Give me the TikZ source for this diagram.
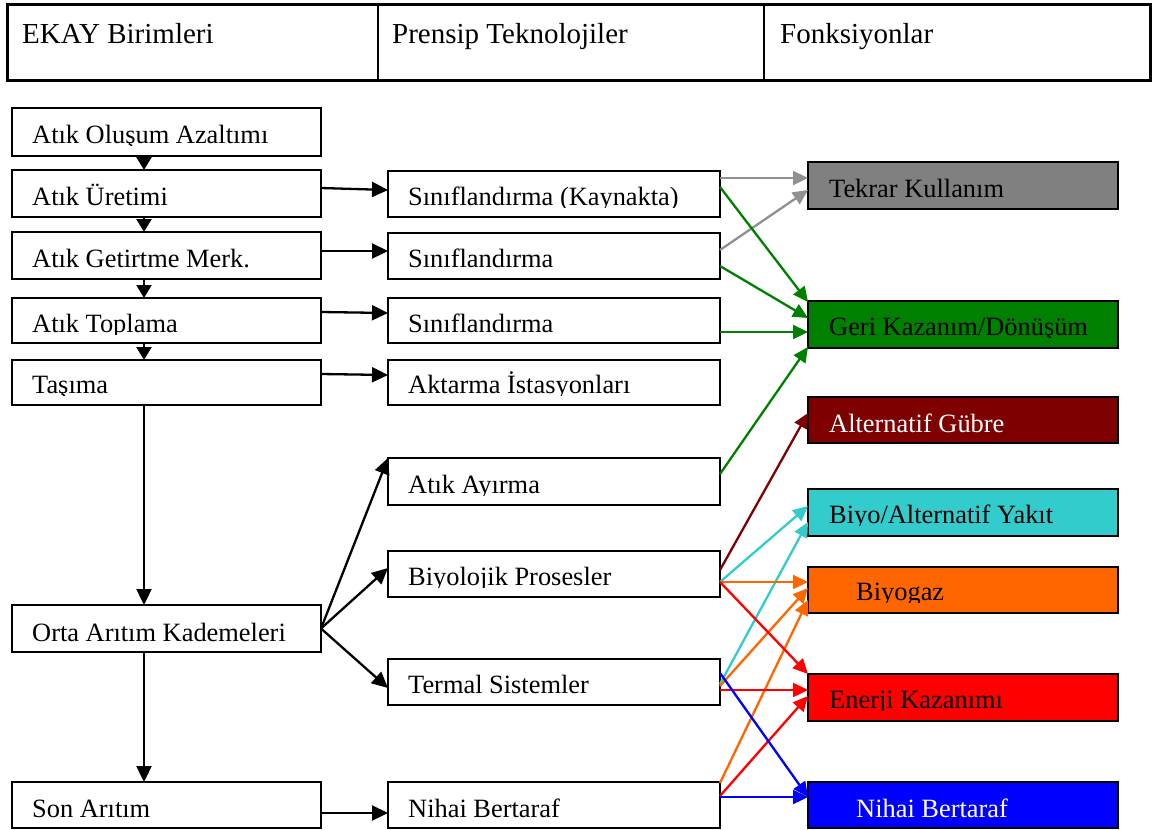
\documentclass[tikz,border=0pt]{standalone}
\usepackage{fontspec}
\setmainfont{Liberation Serif}
\usetikzlibrary{arrows.meta}

\definecolor{reuse}{HTML}{808080}
\definecolor{reusearrow}{HTML}{909090}
\definecolor{recycle}{HTML}{008000}
\definecolor{fert}{HTML}{7F0000}
\definecolor{fuel}{HTML}{33CCCC}
\definecolor{biogas}{HTML}{FF6600}
\definecolor{energy}{HTML}{FF0000}
\definecolor{disposal}{HTML}{0000FF}

\tikzset{
  box/.style={draw=black, line width=2pt, anchor=north west, inner sep=0pt, outer sep=0pt},
  lbl/.style={anchor=base west, inner sep=0pt, font=\fontsize{26.4}{30}\selectfont},
  hdr/.style={anchor=base west, inner sep=0pt, font=\fontsize{29}{33}\selectfont},
  cell/.style={draw=black, line width=2pt, anchor=north west, inner sep=0pt, outer sep=0pt},
  flow/.style={line width=2.3pt, -{Triangle[length=16pt,width=15pt]}},
  vflow/.style={line width=2.3pt, -{Triangle[length=13pt,width=15pt]}},
  link/.style={line width=2.3pt, -{Triangle[length=15pt,width=14pt]}},
}

% box with corners (x0,y0) and (x1,y1)
\newcommand\mkbox[6]{%
  \node[box, fill=#6, minimum width={#4-#2}, minimum height={#5-#3}] (#1) at (#2,#3) {};}
% label set on a baseline, cut just below it
\newcommand\cliplabel[5]{%
  \begin{scope}
    \clip (#2-4,#3-45) rectangle (#2+420,#3+2.5);
    \node[lbl, text=#4] (#1) at (#2,#3) {#5};
  \end{scope}}

\begin{document}
\begin{tikzpicture}[x=1pt, y=-1pt]
\useasboundingbox (0,0) rectangle (1162,830);

% ---- header table ----
\node[cell, minimum width=371, minimum height=76] (h1) at (7,4) {};
\node[cell, minimum width=386, minimum height=76] (h2) at (378,4) {};
\node[cell, minimum width=386, minimum height=76] (h3) at (764,4) {};
\draw[line width=3pt] (h1.north west) rectangle (h3.south east);
\node[hdr] (ht1) at (22,43) {EKAY Birimleri};
\node[hdr] (ht2) at (392,43) {Prensip Teknolojiler};
\node[hdr] (ht3) at (780,43) {Fonksiyonlar};

% ---- left column: units ----
\mkbox{L1}{12}{108}{321}{156}{white}
\mkbox{L2}{12}{170}{321}{217}{white}
\mkbox{L3}{12}{232}{321}{279}{white}
\mkbox{L4}{12}{298}{321}{343}{white}
\mkbox{L5}{12}{360}{321}{405}{white}
\mkbox{L6}{12}{605}{321}{652}{white}
\mkbox{L7}{12}{782}{321}{828}{white}

% ---- middle column: technologies ----
\mkbox{M1}{388}{171}{720}{217}{white}
\mkbox{M2}{388}{233}{720}{279}{white}
\mkbox{M3}{388}{298}{720}{343}{white}
\mkbox{M4}{388}{360}{720}{405}{white}
\mkbox{M5}{388}{458}{720}{505}{white}
\mkbox{M6}{388}{551}{720}{597}{white}
\mkbox{M7}{388}{659}{720}{705}{white}
\mkbox{M8}{388}{782}{720}{828}{white}

% ---- right column: functions ----
\mkbox{R1}{808}{162}{1118}{209}{reuse}
\mkbox{R2}{808}{301}{1118}{348}{recycle}
\mkbox{R3}{808}{397}{1118}{443}{fert}
\mkbox{R4}{808}{489}{1118}{536}{fuel}
\mkbox{R5}{808}{567}{1118}{613}{biogas}
\mkbox{R6}{808}{674}{1118}{721}{energy}
\mkbox{R7}{808}{782}{1118}{828}{disposal}

% ---- labels ----
\cliplabel{tL1}{32}{143}{black}{Atık Oluşum Azaltımı}
\cliplabel{tL2}{32}{205}{black}{Atık Üretimi}
\cliplabel{tL3}{32}{267}{black}{Atık Getirtme Merk.}
\cliplabel{tL4}{32}{332}{black}{Atık Toplama}
\cliplabel{tL5}{32}{393}{black}{Taşıma}
\cliplabel{tL6}{32}{641}{black}{Orta Arıtım Kademeleri}
\cliplabel{tL7}{32}{817}{black}{Son Arıtım}

\cliplabel{tM1}{408}{205}{black}{Sınıflandırma (Kaynakta)}
\cliplabel{tM2}{408}{267}{black}{Sınıflandırma}
\cliplabel{tM3}{408}{332}{black}{Sınıflandırma}
\cliplabel{tM4}{408}{393}{black}{Aktarma İstasyonları}
\cliplabel{tM5}{408}{493}{black}{Atık Ayırma}
\cliplabel{tM6}{408}{585}{black}{Biyolojik Prosesler}
\cliplabel{tM7}{408}{693}{black}{Termal Sistemler}
\cliplabel{tM8}{408}{817}{black}{Nihai Bertaraf}

\cliplabel{tR1}{829}{197}{black}{Tekrar Kullanım}
\cliplabel{tR2}{829}{335}{black}{Geri Kazanım/Dönüşüm}
\cliplabel{tR3}{829}{432}{white}{Alternatif Gübre}
\cliplabel{tR4}{829}{523}{black}{Biyo/Alternatif Yakıt}
\cliplabel{tR5}{856}{600}{black}{Biyogaz}
\cliplabel{tR6}{829}{708}{black}{Enerji Kazanımı}
\cliplabel{tR7}{856}{817}{white}{Nihai Bertaraf}

% ---- vertical chain of units ----
\draw[vflow] ([xshift=-22.5pt]L1.south) -- ([xshift=-22.5pt]L2.north);
\draw[vflow] ([xshift=-22.5pt]L2.south) -- ([xshift=-22.5pt]L3.north);
\draw[vflow] ([xshift=-22.5pt]L3.south) -- ([xshift=-22.5pt]L4.north);
\draw[vflow] ([xshift=-22.5pt]L4.south) -- ([xshift=-22.5pt]L5.north);
\draw[flow]  ([xshift=-22.5pt]L5.south) -- ([xshift=-22.5pt]L6.north);
\draw[flow]  ([xshift=-22.5pt]L6.south) -- ([xshift=-22.5pt]L7.north);

% ---- units to technologies ----
\draw[flow] ([yshift=5.5pt]L2.east) -- ([yshift=4pt]M1.west);
\draw[flow] ([yshift=4.5pt]L3.east) -- ([yshift=5pt]M2.west);
\draw[flow] ([yshift=8.5pt]L4.east) -- ([yshift=7.5pt]M3.west);
\draw[flow] ([yshift=8.5pt]L5.east) -- ([yshift=7.5pt]M4.west);
\draw[flow] (L6.east) -- (M5.north west);
\draw[flow] (L6.east) -- ([yshift=6pt]M6.west);
\draw[flow] (L6.east) -- ([yshift=-6pt]M7.west);
\draw[flow] ([yshift=-8pt]L7.east) -- ([yshift=-8pt]M8.west);

% ---- technologies to functions ----
\draw[link, reusearrow] ([yshift=16pt]M1.east) -- ([yshift=7.5pt]R1.west);
\draw[link, reusearrow] ([yshift=6pt]M2.east) -- ([yshift=-4.5pt]R1.west);

\draw[link, recycle] ([yshift=7pt]M1.east) -- ([yshift=-1pt]R2.north west);
\draw[link, recycle] ([yshift=-10pt]M2.east) -- ([yshift=6.5pt]R2.west);
\draw[link, recycle] ([yshift=-11.5pt]M3.east) -- ([yshift=-7.5pt]R2.west);
\draw[link, recycle] ([yshift=7.5pt]M5.east) -- ([yshift=1pt]R2.south west);

\draw[link, fert] ([yshift=4pt]M6.east) -- ([yshift=7pt]R3.west);
\draw[link, fuel] ([yshift=-8pt]M6.east) -- ([yshift=6.5pt]R4.west);
\draw[link, fuel] ([yshift=-2pt]M7.east) -- ([yshift=-9.5pt]R4.west);

\draw[link, biogas] ([yshift=-8pt]M6.east) -- ([yshift=8pt]R5.west);
\draw[link, biogas] ([yshift=-4pt]M7.east) -- ([yshift=2pt]R5.west);
\draw[link, biogas] ([yshift=22pt]M8.east) -- ([yshift=-10pt]R5.west);

\draw[link, energy] ([yshift=-8pt]M6.east) -- (R6.north west);
\draw[link, energy] ([yshift=-8pt]M7.east) -- ([yshift=7.5pt]R6.west);
\draw[link, energy] ([yshift=9pt]M8.east) -- ([yshift=1.5pt]R6.west);

\draw[link, disposal] ([yshift=9pt]M7.east) -- ([yshift=8pt]R7.west);
\draw[link, disposal] ([yshift=8pt]M8.east) -- ([yshift=8pt]R7.west);
\end{tikzpicture}
\end{document}
